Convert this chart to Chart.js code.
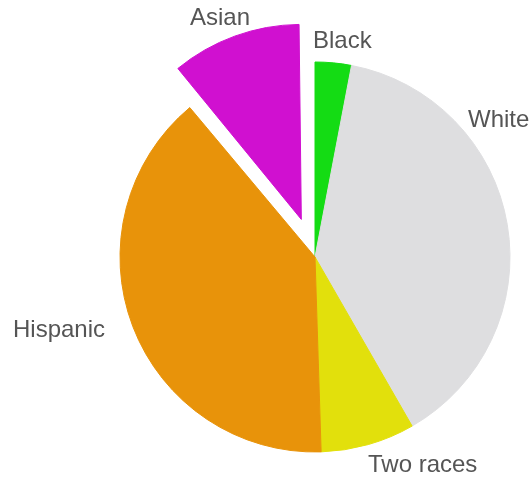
<!DOCTYPE html>
<html>
<head>
<meta charset="utf-8">
<script src="https://cdn.jsdelivr.net/npm/chart.js@4/dist/chart.umd.min.js"></script>
<style>
  html, body { margin: 0; padding: 0; background: #fff; }
  #wrap { width: 529px; height: 478px; }
</style>
</head>
<body>
<div id="wrap"><canvas id="pie"></canvas></div>
<script>
// categorías y porcentajes (en sentido horario desde arriba)
const grupos = ['Black', 'White', 'Two races', 'Hispanic', 'Asian'];
const porcentajes = [3.0, 38.7, 7.8, 39.4, 11.1];
const colores = ['#14dc14', '#dedee0', '#e2e00c', '#e8930a', '#d010d0'];
// sólo la porción asiática va separada
const separado = [0, 0, 0, 0, 160];

// posición de cada etiqueta respecto al centro del pastel
const posEtiquetas = [
  { dx: -2, dy: -209 },
  { dx: 153, dy: -130 },
  { dx: 53, dy: 215 },
  { dx: -302, dy: 80 },
  { dx: -125, dy: -232 }
];

// mantiene la porción separada con el mismo radio que las demás
const radioParejo = {
  id: 'radioParejo',
  beforeDatasetsDraw(chart) {
    const meta = chart.getDatasetMeta(0);
    meta.data.forEach((arc, i) => {
      const off = (separado[i] || 0) / 4;
      const fix = 1 - Math.sin(Math.min(Math.PI, arc.circumference));
      arc.outerRadius = chart._radioBase - off * fix;
    });
  }
};

const etiquetas = {
  id: 'etiquetas',
  afterDatasetsDraw(chart) {
    const ctx = chart.ctx;
    const arc = chart.getDatasetMeta(0).data[0];
    ctx.save();
    ctx.font = '24px "Liberation Sans", Arial, sans-serif';
    ctx.fillStyle = '#555555';
    ctx.textAlign = 'left';
    ctx.textBaseline = 'alphabetic';
    grupos.forEach((g, i) => {
      ctx.fillText(g, arc.x + posEtiquetas[i].dx, arc.y + posEtiquetas[i].dy);
    });
    ctx.restore();
  }
};

const grafico = new Chart(document.getElementById('pie'), {
  type: 'pie',
  data: {
    labels: grupos,
    datasets: [{
      data: porcentajes,
      backgroundColor: colores,
      borderColor: colores,
      borderWidth: 1,
      offset: separado
    }]
  },
  options: {
    responsive: true,
    maintainAspectRatio: false,
    animation: false,
    radius: 195,
    layout: { padding: { left: 101, right: 0, top: 36, bottom: 0 } },
    plugins: {
      legend: { display: false },
      tooltip: { enabled: false }
    }
  },
  plugins: [radioParejo, etiquetas]
});
grafico._radioBase = 195;
grafico.draw();
</script>
</body>
</html>
